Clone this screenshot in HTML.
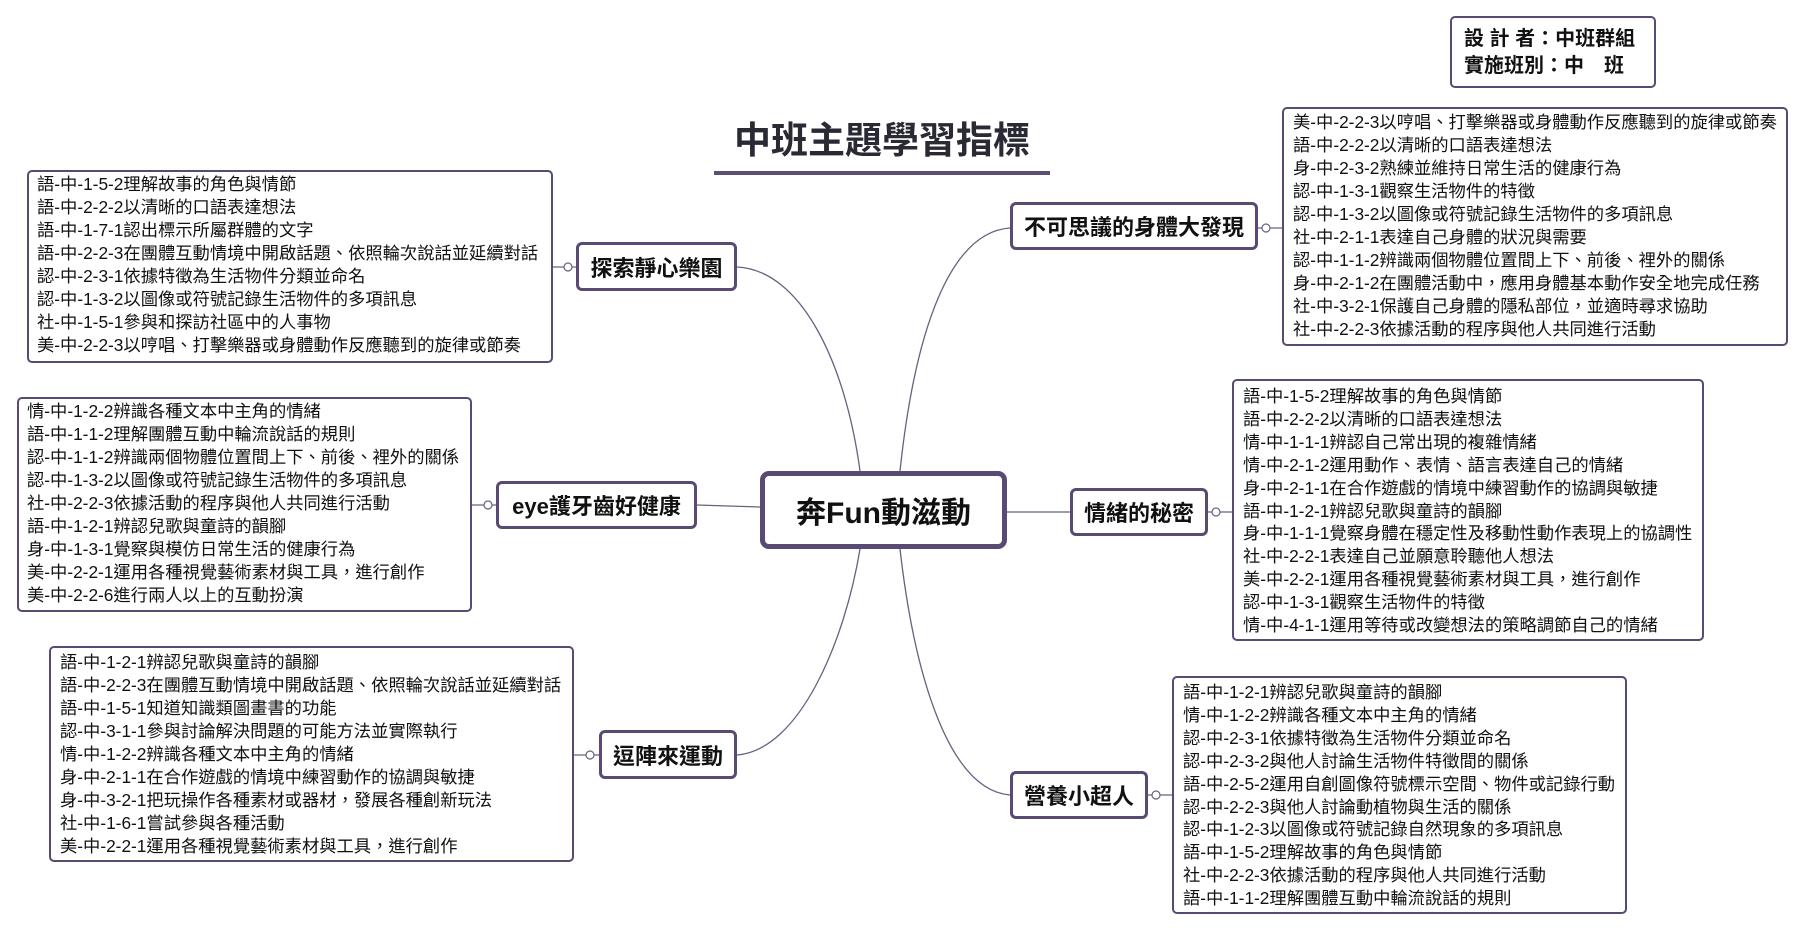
<!DOCTYPE html>
<html><head><meta charset="utf-8"><style>
html,body{margin:0;padding:0;background:#fff;}
body{width:1806px;height:932px;position:relative;overflow:hidden;font-family:"Liberation Sans","Noto Sans CJK TC",sans-serif;color:#111;}
.b{position:absolute;box-sizing:border-box;border:2.5px solid #584a72;border-radius:5px;background:#fff;}
.t{position:absolute;white-space:nowrap;font-size:17.3px;line-height:23px;}
.lab{position:absolute;box-sizing:border-box;border:3px solid #584a72;border-radius:6px;background:#fff;font-weight:bold;font-size:22px;display:flex;align-items:center;justify-content:center;white-space:nowrap;}
svg{position:absolute;left:0;top:0;}
</style></head><body>
<svg width="1806" height="932">
<g fill="none" stroke="#6a6080" stroke-width="1.3">
<path d="M737,267 C800,270 845,360 860,471"/>
<path d="M1010,228 C950,232 915,330 900,471"/>
<path d="M737,755 C800,750 845,640 860,549"/>
<path d="M1010,795 C950,790 915,680 900,549"/>
<path d="M697,505 L760,507"/>
<path d="M1007,512 L1070,512"/>
<path d="M553,267 L564,267 M572,267 L576,267"/>
<path d="M472,505 L484,505 M492,505 L496,505"/>
<path d="M574,755 L586,755 M594,755 L599,755"/>
<path d="M1258,228 L1262,228 M1270,228 L1282,228"/>
<path d="M1208,512 L1212,512 M1220,512 L1232,512"/>
<path d="M1148,795 L1152,795 M1160,795 L1172,795"/>
</g>
<g fill="#fff" stroke="#6a6080" stroke-width="1.2">
<circle cx="568" cy="267" r="4"/><circle cx="488" cy="505" r="4"/><circle cx="590" cy="755" r="4"/>
<circle cx="1266" cy="228" r="4"/><circle cx="1216" cy="512" r="4"/><circle cx="1156" cy="795" r="4"/>
</g>
<rect x="714" y="171" width="336" height="4" fill="#5b4d73"/>
</svg>

<div style="position:absolute;left:734px;top:118px;font-size:37px;font-weight:bold;color:#2a2a35;white-space:nowrap;line-height:46px;">中班主題學習指標</div>

<div class="b" style="left:1450px;top:16px;width:206px;height:72px;"></div>
<div style="position:absolute;left:1464px;top:26px;font-size:20px;font-weight:bold;line-height:27px;white-space:nowrap;">設 計 者：中班群組<br>實施班別：中　班</div>

<div class="lab" style="left:760px;top:471px;width:247px;height:78px;border-width:5px;border-radius:9px;font-size:30px;">奔Fun動滋動</div>

<div class="lab" style="left:576px;top:242px;width:161px;height:49px;">探索靜心樂園</div>
<div class="lab" style="left:496px;top:481px;width:201px;height:48px;">eye護牙齒好健康</div>
<div class="lab" style="left:599px;top:730px;width:138px;height:49px;">逗陣來運動</div>
<div class="lab" style="left:1010px;top:202px;width:248px;height:48px;">不可思議的身體大發現</div>
<div class="lab" style="left:1070px;top:488px;width:138px;height:48px;">情緒的秘密</div>
<div class="lab" style="left:1010px;top:771px;width:138px;height:48px;">營養小超人</div>

<div class="b" style="left:27px;top:170px;width:526px;height:193px;"></div>
<div class="t" style="left:37px;top:173px;">語-中-1-5-2理解故事的角色與情節<br>語-中-2-2-2以清晰的口語表達想法<br>語-中-1-7-1認出標示所屬群體的文字<br>語-中-2-2-3在團體互動情境中開啟話題、依照輪次說話並延續對話<br>認-中-2-3-1依據特徵為生活物件分類並命名<br>認-中-1-3-2以圖像或符號記錄生活物件的多項訊息<br>社-中-1-5-1參與和探訪社區中的人事物<br>美-中-2-2-3以哼唱、打擊樂器或身體動作反應聽到的旋律或節奏</div>

<div class="b" style="left:17px;top:397px;width:455px;height:215px;"></div>
<div class="t" style="left:27px;top:400px;">情-中-1-2-2辨識各種文本中主角的情緒<br>語-中-1-1-2理解團體互動中輪流說話的規則<br>認-中-1-1-2辨識兩個物體位置間上下、前後、裡外的關係<br>認-中-1-3-2以圖像或符號記錄生活物件的多項訊息<br>社-中-2-2-3依據活動的程序與他人共同進行活動<br>語-中-1-2-1辨認兒歌與童詩的韻腳<br>身-中-1-3-1覺察與模仿日常生活的健康行為<br>美-中-2-2-1運用各種視覺藝術素材與工具，進行創作<br>美-中-2-2-6進行兩人以上的互動扮演</div>

<div class="b" style="left:49px;top:646px;width:525px;height:216px;"></div>
<div class="t" style="left:60px;top:651px;">語-中-1-2-1辨認兒歌與童詩的韻腳<br>語-中-2-2-3在團體互動情境中開啟話題、依照輪次說話並延續對話<br>語-中-1-5-1知道知識類圖畫書的功能<br>認-中-3-1-1參與討論解決問題的可能方法並實際執行<br>情-中-1-2-2辨識各種文本中主角的情緒<br>身-中-2-1-1在合作遊戲的情境中練習動作的協調與敏捷<br>身-中-3-2-1把玩操作各種素材或器材，發展各種創新玩法<br>社-中-1-6-1嘗試參與各種活動<br>美-中-2-2-1運用各種視覺藝術素材與工具，進行創作</div>

<div class="b" style="left:1282px;top:107px;width:506px;height:239px;"></div>
<div class="t" style="left:1293px;top:111px;">美-中-2-2-3以哼唱、打擊樂器或身體動作反應聽到的旋律或節奏<br>語-中-2-2-2以清晰的口語表達想法<br>身-中-2-3-2熟練並維持日常生活的健康行為<br>認-中-1-3-1觀察生活物件的特徵<br>認-中-1-3-2以圖像或符號記錄生活物件的多項訊息<br>社-中-2-1-1表達自己身體的狀況與需要<br>認-中-1-1-2辨識兩個物體位置間上下、前後、裡外的關係<br>身-中-2-1-2在團體活動中，應用身體基本動作安全地完成任務<br>社-中-3-2-1保護自己身體的隱私部位，並適時尋求協助<br>社-中-2-2-3依據活動的程序與他人共同進行活動</div>

<div class="b" style="left:1232px;top:379px;width:472px;height:262px;"></div>
<div class="t" style="left:1243px;top:385px;line-height:22.9px;">語-中-1-5-2理解故事的角色與情節<br>語-中-2-2-2以清晰的口語表達想法<br>情-中-1-1-1辨認自己常出現的複雜情緒<br>情-中-2-1-2運用動作、表情、語言表達自己的情緒<br>身-中-2-1-1在合作遊戲的情境中練習動作的協調與敏捷<br>語-中-1-2-1辨認兒歌與童詩的韻腳<br>身-中-1-1-1覺察身體在穩定性及移動性動作表現上的協調性<br>社-中-2-2-1表達自己並願意聆聽他人想法<br>美-中-2-2-1運用各種視覺藝術素材與工具，進行創作<br>認-中-1-3-1觀察生活物件的特徵<br>情-中-4-1-1運用等待或改變想法的策略調節自己的情緒</div>

<div class="b" style="left:1172px;top:676px;width:455px;height:238px;"></div>
<div class="t" style="left:1183px;top:681px;line-height:22.9px;">語-中-1-2-1辨認兒歌與童詩的韻腳<br>情-中-1-2-2辨識各種文本中主角的情緒<br>認-中-2-3-1依據特徵為生活物件分類並命名<br>認-中-2-3-2與他人討論生活物件特徵間的關係<br>語-中-2-5-2運用自創圖像符號標示空間、物件或記錄行動<br>認-中-2-2-3與他人討論動植物與生活的關係<br>認-中-1-2-3以圖像或符號記錄自然現象的多項訊息<br>語-中-1-5-2理解故事的角色與情節<br>社-中-2-2-3依據活動的程序與他人共同進行活動<br>語-中-1-1-2理解團體互動中輪流說話的規則</div>
</body></html>
